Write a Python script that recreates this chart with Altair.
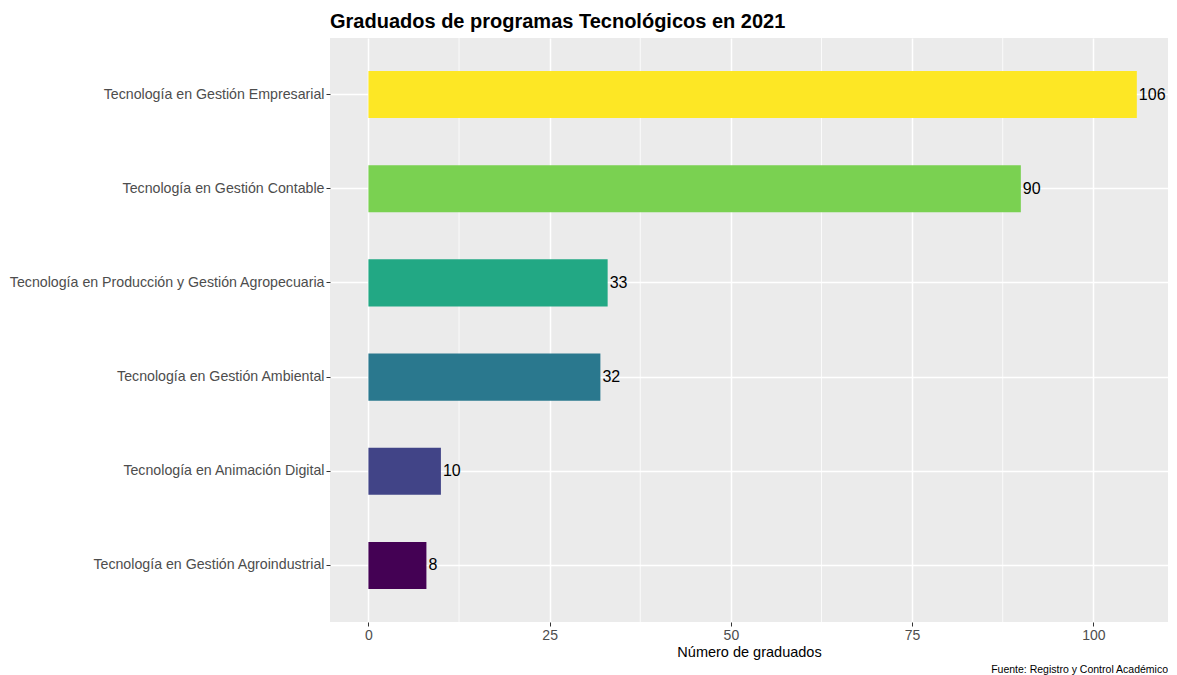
import altair as alt
import pandas as pd

programas = [
    "Tecnología en Gestión Empresarial",
    "Tecnología en Gestión Contable",
    "Tecnología en Producción y Gestión Agropecuaria",
    "Tecnología en Gestión Ambiental",
    "Tecnología en Animación Digital",
    "Tecnología en Gestión Agroindustrial",
]
graduados = [106, 90, 33, 32, 10, 8]
colores = ["#FDE725", "#7AD151", "#22A884", "#2A788E", "#414487", "#440154"]
ticks_major = [0, 25, 50, 75, 100]
ticks_minor = [12.5, 37.5, 62.5, 87.5]

df = pd.DataFrame({"programa": programas, "graduados": graduados, "color": colores})
minor_df = pd.DataFrame({"v": ticks_minor})
caption_df = pd.DataFrame({"t": ["Fuente: Registro y Control Académico"]})

W, H = 838, 584
FONT = "Liberation Sans"

xscale = alt.Scale(domain=[-5.3, 110.3], nice=False, zero=False)
yscale = alt.Scale(paddingInner=0.5, paddingOuter=0.35)

minor = alt.Chart(minor_df).mark_rule(color="white", strokeWidth=0.8).encode(
    x=alt.X("v:Q", scale=xscale)
)

bars = alt.Chart(df).mark_bar().encode(
    y=alt.Y("programa:N", sort=programas, scale=yscale,
            axis=alt.Axis(title=None, labelFontSize=14.2, labelColor="#4D4D4D",
                          tickColor="#333333", tickSize=4, labelPadding=2,
                          domain=False, grid=True, gridColor="white", gridWidth=1.5,
                          labelFont=FONT, labelLimit=400)),
    x=alt.X("graduados:Q", scale=xscale,
            axis=alt.Axis(title="Número de graduados", values=ticks_major,
                          labelFontSize=14, labelColor="#4D4D4D", tickColor="#333333",
                          tickSize=4, labelPadding=2, domain=False, grid=True,
                          gridColor="white", gridWidth=1.5, titleFontSize=14.5,
                          titleFontWeight="normal", titleColor="black", titlePadding=3,
                          labelFont=FONT, titleFont=FONT)),
    color=alt.Color("color:N", scale=None),
)

labels = alt.Chart(df).mark_text(align="left", baseline="middle", dx=2,
                                 fontSize=16, color="black", font=FONT).encode(
    y=alt.Y("programa:N", sort=programas, scale=yscale),
    x=alt.X("graduados:Q", scale=xscale),
    text="graduados:Q",
)

caption = alt.Chart(caption_df).mark_text(align="right", baseline="middle",
                                          fontSize=10.5, color="black", font=FONT).encode(
    x=alt.value(W), y=alt.value(H + 48), text="t:N"
)

chart = alt.layer(minor, bars, labels, caption).properties(
    width=W, height=H,
    title=alt.TitleParams("Graduados de programas Tecnológicos en 2021",
                          anchor="start", frame="group", fontSize=20, fontWeight="bold",
                          font=FONT, color="black", offset=6),
    background="white",
    padding={"left": 0, "top": 3, "right": 0, "bottom": 0},
).configure_view(fill="#EBEBEB", stroke=None)

chart.save("out.html", embed_options={"renderer": "svg", "actions": False})
